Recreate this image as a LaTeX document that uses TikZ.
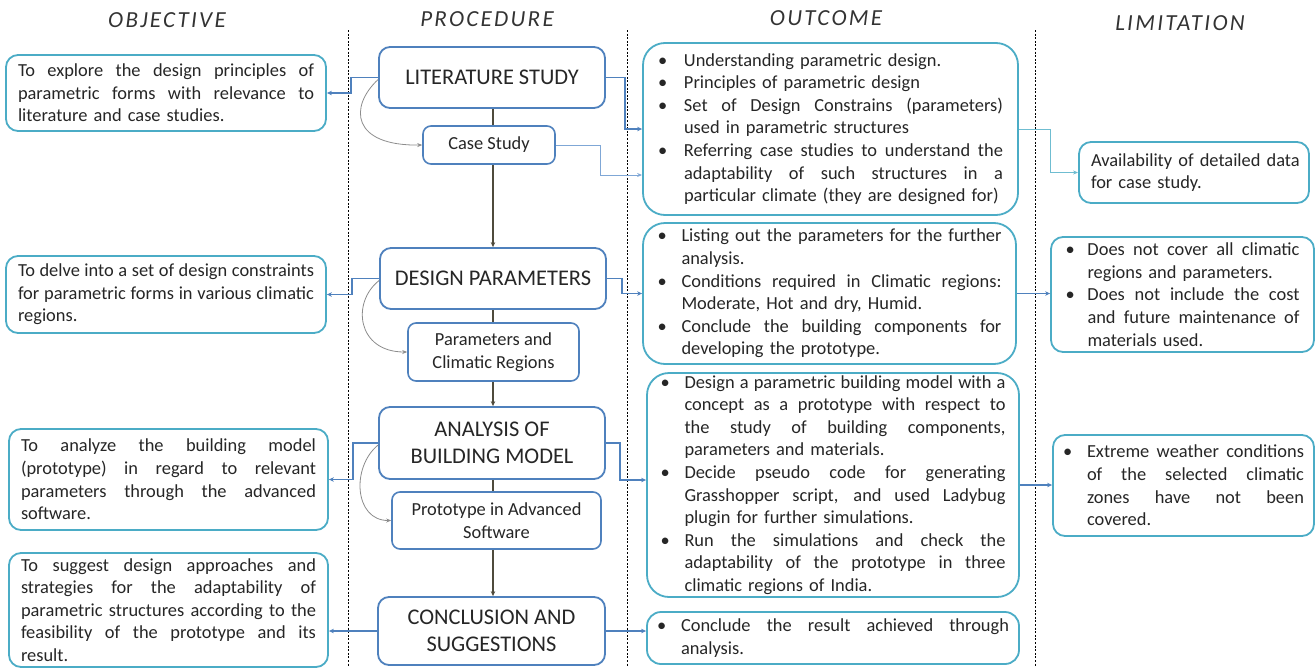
\documentclass[tikz,border=0pt]{standalone}
\usepackage{fontspec}
\setmainfont{Carlito}
\newfontfamily\headfont{Carlito}[LetterSpace=10]
\usetikzlibrary{arrows.meta,calc}
\definecolor{aqua}{HTML}{4BACC6}
\definecolor{pblue}{HTML}{4F81BD}
\definecolor{lblue}{HTML}{7FA7D6}
\definecolor{trunkc}{HTML}{4F4B3C}
\definecolor{txt}{HTML}{262626}
\definecolor{curvec}{HTML}{8C8C8C}
\pgfdeclarelayer{bg}
\pgfsetlayers{bg,main}
\newlength\hg
\setlength\parskip{0pt}
\newcommand\strsp{\spaceskip=0.226em plus 1fil minus 0.05em\relax}
% justified line / natural line (no bullet)
\newcommand\jl[1]{\noindent{\strsp\hbox to\hsize{#1}}\par}
\newcommand\nl[1]{\noindent\hbox to\hsize{#1\hfill}\par}
% bullet first line justified / natural
\newcommand\bj[1]{\noindent{\strsp\hbox to\hsize{\hbox to\hg{\textbullet\hss}#1}}\par}
\newcommand\bn[1]{\noindent\hbox to\hsize{\hbox to\hg{\textbullet\hss}#1\hfill}\par}
% continuation justified / natural
\newcommand\cj[1]{\noindent{\strsp\hbox to\hsize{\hskip\hg #1}}\par}
\newcommand\cn[1]{\noindent\hbox to\hsize{\hskip\hg #1\hfill}\par}
\newcommand\bodyfont{\fontsize{18.4}{22.6}\selectfont}
\tikzset{
  obox/.style={draw=aqua, line width=1.8pt, rounded corners=12pt, fill=white,
    inner ysep=0pt, text=txt, font=\bodyfont},
  ubox/.style={draw=aqua, line width=1.8pt, rounded corners=22pt, fill=white,
    inner ysep=0pt, text=txt, font=\bodyfont},
  pbox/.style={draw=pblue, line width=1.8pt, rounded corners=11pt, fill=white,
    text=txt, align=center, font=\fontsize{22.4}{27}\selectfont},
  sbox/.style={draw=pblue, line width=1.6pt, rounded corners=8pt, fill=white,
    text=txt, align=center, font=\fontsize{18.4}{22.6}\selectfont},
  head/.style={font=\headfont\fontsize{23}{26}\selectfont\itshape, text=black!80},
  conn/.style={draw=pblue, line width=1.6pt, -{Stealth[length=5pt,width=4.5pt]}},
  thin/.style={draw=lblue, line width=1pt, -{Stealth[length=5pt,width=4pt]}},
  curv/.style={draw=curvec, line width=0.8pt, -{Stealth[length=5pt,width=4pt]}},
  trk/.style={draw=trunkc, line width=2pt, -{Stealth[length=5pt,width=4.5pt]}},
  sep/.style={draw=black, line width=0.6pt, dash pattern=on 2pt off 1.6pt},
}
\begin{document}
\begin{tikzpicture}[x=1pt,y=-1pt]
\useasboundingbox (0,0) rectangle (1315,667);

% headings
\node[head] (h1) at (167,20) {OBJECTIVE};
\node[head] (h2) at (487,19) {PROCEDURE};
\node[head] (h3) at (826,18) {OUTCOME};
\node[head] (h4) at (1180,23) {LIMITATION};

% objectives
\node[obox, text width=296pt, inner xsep=12pt, minimum width=320pt, minimum height=76pt] (O1) at (166,93)
 {\jl{To explore the design principles of}\jl{parametric forms with relevance to}\nl{literature and case studies.}};
\node[obox, text width=296pt, inner xsep=12pt, minimum width=320pt, minimum height=77pt] (O2) at (166,294.5)
 {\jl{To delve into a set of design constraints}\jl{for parametric forms in various climatic}\nl{regions.}};
\node[obox, text width=295pt, inner xsep=12pt, minimum width=319pt, minimum height=101pt] (O3) at (168.5,479.5)
 {\jl{To analyze the building model}\jl{(prototype) in regard to relevant}\jl{parameters through the advanced}\nl{software.}};
\node[obox, text width=295pt, inner xsep=12pt, minimum width=319pt, minimum height=114pt] (O4) at (168.5,610)
 {\jl{To suggest design approaches and}\jl{strategies for the adaptability of}\jl{parametric structures according to the}\jl{feasibility of the prototype and its}\nl{result.}};

% procedure
\node[pbox, minimum width=226pt, minimum height=61pt] (P1) at (492,77.5) {LITERATURE STUDY};
\node[sbox, minimum width=132pt, minimum height=38pt] (CS) at (489,145) {Case Study};
\node[pbox, minimum width=226pt, minimum height=61pt] (P2) at (493,278.5) {DESIGN PARAMETERS};
\node[sbox, minimum width=171pt, minimum height=58pt] (PC) at (493.5,352) {Parameters and\\Climatic Regions};
\node[pbox, minimum width=226pt, minimum height=72pt] (P3) at (492,443) {ANALYSIS OF\\BUILDING MODEL};
\node[sbox, minimum width=209pt, minimum height=57pt] (PS) at (496.5,520.5) {Prototype in Advanced\\Software};
\node[pbox, minimum width=227pt, minimum height=68pt] (P4) at (491.5,631) {CONCLUSION AND\\SUGGESTIONS};

% outcomes
\node[ubox, text width=345pt, inner xsep=15pt, minimum width=375pt, minimum height=172pt] (U1) at (830.5,129)
 {\setlength\hg{26pt}%
  \bn{Understanding parametric design.}%
  \bn{Principles of parametric design}%
  \bj{Set of Design Constrains (parameters)}\cn{used in parametric structures}%
  \bj{Referring case studies to understand the}\cj{adaptability of such structures in a}\cn{particular climate (they are designed for)}};
\node[ubox, text width=344pt, inner xsep=14.5pt, minimum width=373pt, minimum height=141pt] (U2) at (829.5,293.5)
 {\setlength\hg{24pt}%
  \bj{Listing out the parameters for the further}\cn{analysis.}%
  \bj{Conditions required in Climatic regions:}\cn{Moderate, Hot and dry, Humid.}%
  \bj{Conclude the building components for}\cn{developing the prototype.}};
\node[ubox, text width=345pt, inner xsep=13.5pt, minimum width=372pt, minimum height=224pt] (U3) at (833,485)
 {\setlength\hg{24pt}%
  \bj{Design a parametric building model with a}\cj{concept as a prototype with respect to}\cj{the study of building components,}\cn{parameters and materials.}%
  \bj{Decide pseudo code for generating}\cj{Grasshopper script, and used Ladybug}\cn{plugin for further simulations.}%
  \bj{Run the simulations and check the}\cj{adaptability of the prototype in three}\cn{climatic regions of India.}};
\node[obox, rounded corners=14pt, text width=352pt, inner xsep=10pt, minimum width=372pt, minimum height=52pt] (U4) at (833,638)
 {\setlength\hg{24pt}%
  \bj{Conclude the result achieved through}\cn{analysis.}};

% limitations
\node[obox, text width=206pt, inner xsep=12pt, minimum width=230pt, minimum height=61pt] (L1) at (1194,172.5)
 {\nl{Availability of detailed data}\nl{for case study.}};
\node[obox, text width=234pt, inner xsep=14.5pt, minimum width=263pt, minimum height=115pt] (L2) at (1182.5,294.5)
 {\setlength\hg{22pt}%
  \bj{Does not cover all climatic}\cn{regions and parameters.}%
  \bj{Does not include the cost}\cj{and future maintenance of}\cn{materials used.}};
\node[obox, text width=241pt, inner xsep=10pt, minimum width=261pt, minimum height=101pt] (L3) at (1183.5,485.5)
 {\setlength\hg{24pt}%
  \bj{Extreme weather conditions}\cj{of the selected climatic}\cj{zones have not been}\cn{covered.}};

% background: separators and trunk
\coordinate (tx) at (493,0);
\coordinate (s1t) at (348,30); \coordinate (s1b) at (348,667);
\coordinate (s2t) at (627,30); \coordinate (s2b) at (627,667);
\coordinate (s3t) at (1035,30); \coordinate (s3b) at (1035,667);
\begin{pgfonlayer}{bg}
\draw[sep] (s1t) -- (s1b);
\draw[sep] (s2t) -- (s2b);
\draw[sep] (s3t) -- (s3b);
\draw[trk] (P1.south -| tx) -- (P2.north -| tx);
\draw[trk] (P2.south -| tx) -- (P3.north -| tx);
\draw[trk] (P3.south -| tx) -- (P4.north -| tx);
\end{pgfonlayer}

% connectors
\draw[conn] (P1.west) -- ++(-27,0) |- (O1.east);
\draw[conn] (P1.east) -- ++(19,0) |- (U1.west);
\draw[thin] (CS.east) -- ++(45,0) |- ($(U1.west)+(0,46)$);
\draw[thin, draw=aqua!80] (U1.east) -- ++(32,0) |- (L1.west);
\draw[curv] ([yshift=-2pt]P1.west) .. controls +(-29,27) and +(-71,1) .. (CS.west);

\draw[conn] (P2.west) -- ++(-27,0) |- (O2.east);
\draw[conn] (P2.east) -- ++(15,0) |- (U2.west);
\draw[conn, line width=1.3pt] (U2.east) -- (U2.east -| L2.west);
\draw[curv] ([yshift=-2pt]P2.west) .. controls +(-28,22) and +(-50,0) .. (PC.west);

\draw[conn] (P3.west) -- ++(-25,0) |- (O3.east);
\draw[conn] (P3.east) -- ++(14,0) |- ($(U3.west)+(0,-5)$);
\draw[conn, line width=1.3pt] (U3.east) -- (U3.east -| L3.west);
\draw[curv] ([yshift=-2pt]P3.west) .. controls +(-27,22) and +(-37,0) .. (PS.west);

\draw[conn, line width=1.3pt] (P4.west) -- (P4.west -| O4.east);
\draw[conn, line width=1.3pt] (P4.east) -- (P4.east -| U4.west);
\end{tikzpicture}
\end{document}
